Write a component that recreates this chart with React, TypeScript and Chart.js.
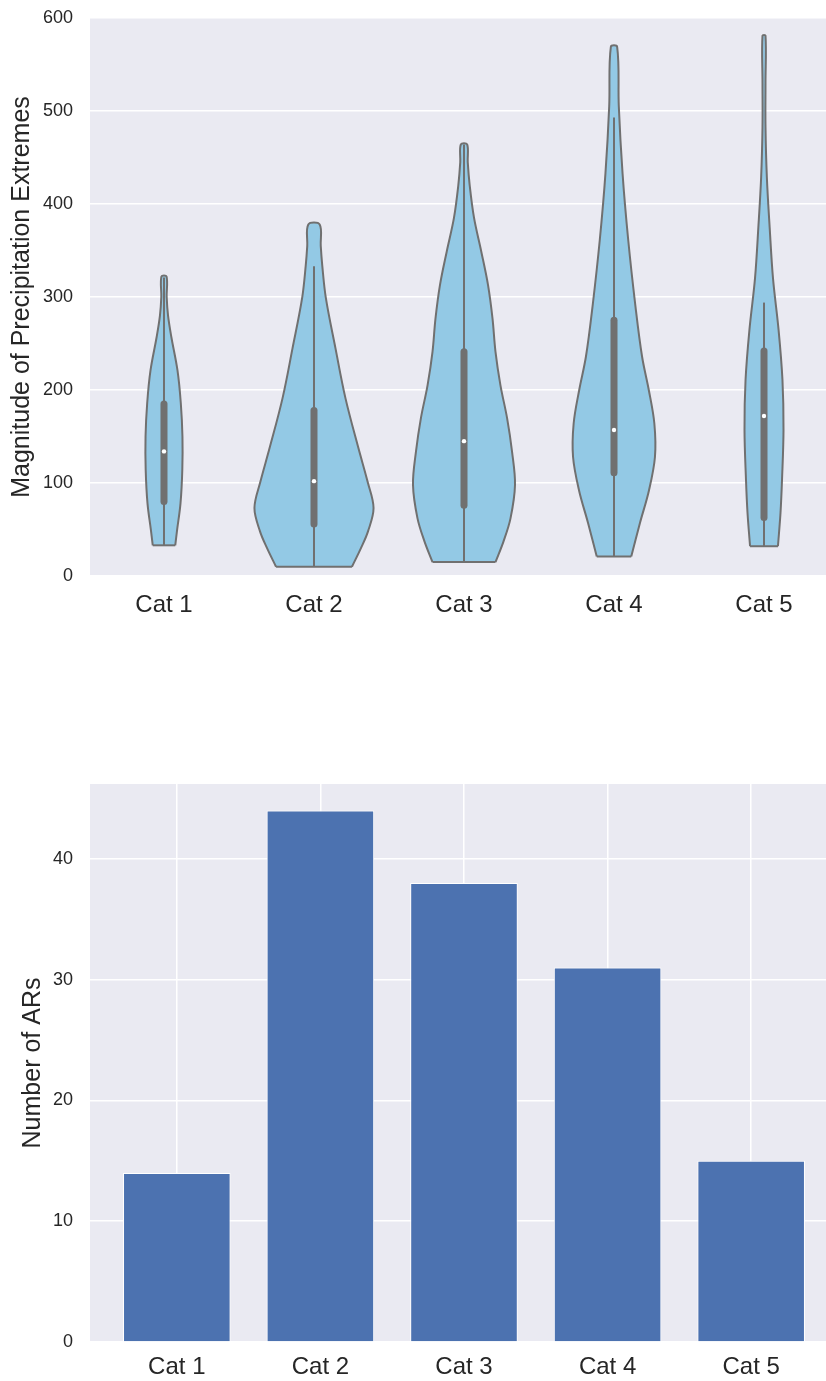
import React, { useEffect, useRef } from 'react';
import { Chart, registerables } from 'chart.js';

Chart.register(...registerables);

// ---------------- data ----------------
const categories = ['Cat 1', 'Cat 2', 'Cat 3', 'Cat 4', 'Cat 5'];

// violin density profiles: y levels and half-widths (category units)
const violinY1 = [33, 49, 78, 114, 150, 186, 221, 257, 280, 300, 322];
const violinW1 = [0.075, 0.087, 0.11, 0.122, 0.123, 0.112, 0.09, 0.049, 0.027, 0.018, 0.017];
const violinY2 = [10, 30, 48, 73, 101, 137, 191, 245, 299, 334, 355, 378];
const violinW2 = [0.253, 0.313, 0.36, 0.397, 0.358, 0.297, 0.21, 0.143, 0.079, 0.055, 0.045, 0.038];
const violinY3 = [15, 37, 62, 98, 134, 170, 205, 241, 277, 313, 349, 385, 420, 445, 464];
const violinW3 = [0.21, 0.263, 0.31, 0.34, 0.32, 0.287, 0.243, 0.21, 0.19, 0.16, 0.115, 0.067, 0.038, 0.025, 0.021];
const violinY4 = [21, 57, 92, 128, 164, 200, 236, 290, 361, 433, 505, 569];
const violinW4 = [0.115, 0.173, 0.233, 0.273, 0.269, 0.232, 0.187, 0.143, 0.095, 0.057, 0.032, 0.021];
const violinY5 = [32, 68, 103, 157, 211, 265, 320, 374, 429, 483, 530, 581];
const violinW5 = [0.093, 0.11, 0.12, 0.13, 0.123, 0.097, 0.06, 0.038, 0.019, 0.01, 0.01, 0.01];

// inner box statistics
const whiskerLow = [33, 10, 15, 21, 32];
const quartile1 = [80, 56, 76, 111, 63];
const medians = [134, 102, 145, 157, 172];
const quartile3 = [185, 178, 241, 275, 242];
const whiskerHigh = [321, 333, 464, 493, 294];

// bar chart
const arCounts = [14, 44, 38, 31, 15];

const precipTicks = [0, 100, 200, 300, 400, 500, 600];
const countTicks = [0, 10, 20, 30, 40];

// ---------------- styles ----------------
const FONT = "'Liberation Sans', Arial, Helvetica, sans-serif";
const TEXT = '#262626';
const BG = '#eaeaf2';
const VIOLIN = '#93c9e5';
const GRAY = '#707070';
const BAR = '#4c72b0';

const bgPlugin = {
  id: 'axesBg',
  beforeDraw(chart: any) {
    const { ctx, chartArea } = chart;
    if (!chartArea) return;
    ctx.save();
    ctx.fillStyle = BG;
    ctx.fillRect(chartArea.left, chartArea.top, chartArea.right - chartArea.left, chartArea.bottom - chartArea.top);
    ctx.restore();
  },
};

const fitY = (s: any) => {
  s.width = 90;
  s.paddingTop = 0;
  s.paddingBottom = 0;
};

export default function App() {
  const topRef = useRef<HTMLCanvasElement>(null);
  const botRef = useRef<HTMLCanvasElement>(null);

  useEffect(() => {
    const profiles: [number[], number[]][] = [
      [violinY1, violinW1],
      [violinY2, violinW2],
      [violinY3, violinW3],
      [violinY4, violinW4],
      [violinY5, violinW5],
    ];

    const topDatasets: any[] = [];
    profiles.forEach(([ys, ws], i) => {
      const right = ys.map((y, k) => ({ x: i + ws[k], y }));
      const left = ys.map((y, k) => ({ x: i - ws[k], y })).reverse();
      topDatasets.push({
        type: 'line',
        data: [...right, ...left],
        fill: 'shape',
        backgroundColor: VIOLIN,
        borderColor: GRAY,
        borderWidth: 2,
        borderJoinStyle: 'round',
        tension: 0.35,
        pointRadius: 0,
        order: 5,
      });
      topDatasets.push({
        type: 'line',
        data: [
          { x: i - ws[0], y: ys[0] },
          { x: i + ws[0], y: ys[0] },
        ],
        fill: false,
        borderColor: GRAY,
        borderWidth: 2,
        pointRadius: 0,
        order: 4,
      });
      topDatasets.push({
        type: 'line',
        data: [
          { x: i, y: whiskerLow[i] },
          { x: i, y: whiskerHigh[i] },
        ],
        fill: false,
        borderColor: GRAY,
        borderWidth: 2,
        pointRadius: 0,
        order: 3,
      });
      topDatasets.push({
        type: 'line',
        data: [
          { x: i, y: quartile1[i] },
          { x: i, y: quartile3[i] },
        ],
        fill: false,
        borderColor: GRAY,
        borderWidth: 7,
        borderCapStyle: 'round',
        pointRadius: 0,
        order: 2,
      });
      topDatasets.push({
        type: 'line',
        data: [{ x: i, y: medians[i] }],
        showLine: false,
        pointRadius: 2.2,
        pointBorderWidth: 0,
        pointBackgroundColor: '#ffffff',
        order: 1,
      });
    });

    const catTicks = (scale: any) => {
      scale.ticks = categories.map((_, i) => ({ value: i }));
    };

    const c1 = new Chart(topRef.current!, {
      type: 'line',
      data: { datasets: topDatasets },
      plugins: [bgPlugin],
      options: {
        animation: false,
        responsive: false,
        devicePixelRatio: 1,
        events: [],
        layout: { autoPadding: false, padding: { top: 18, left: 0, right: 0, bottom: 0 } },
        plugins: { legend: { display: false }, tooltip: { enabled: false } },
        scales: {
          x: {
            type: 'linear',
            min: -0.4933,
            max: 4.4133,
            grid: { display: false },
            border: { display: false },
            afterBuildTicks: catTicks,
            afterFit: (s: any) => {
              s.height = 74;
              s.paddingLeft = 0;
              s.paddingRight = 0;
            },
            ticks: {
              padding: 7,
              color: TEXT,
              font: { family: FONT, size: 24 },
              maxRotation: 0,
              autoSkip: false,
              callback: (v: any) => categories[Math.round(Number(v))],
            },
          },
          y: {
            type: 'linear',
            min: 0,
            max: 600,
            afterBuildTicks: (s: any) => {
              s.ticks = precipTicks.map((v) => ({ value: v }));
            },
            afterFit: fitY,
            grid: { color: '#ffffff', lineWidth: 1.5, drawTicks: false },
            border: { display: false },
            ticks: { padding: 17, color: TEXT, font: { family: FONT, size: 18 } },
            title: {
              display: true,
              text: 'Magnitude of Precipitation Extremes',
              color: TEXT,
              font: { family: FONT, size: 25 },
              padding: { top: 7, bottom: 0 },
            },
          },
        },
      } as any,
    });

    const c2 = new Chart(botRef.current!, {
      type: 'bar',
      data: {
        datasets: [
          {
            data: arCounts.map((v, i) => ({ x: i, y: v })),
            backgroundColor: BAR,
            borderColor: '#ffffff',
            borderWidth: 1,
            categoryPercentage: 1,
            barPercentage: 0.749,
          },
        ],
      },
      plugins: [bgPlugin],
      options: {
        animation: false,
        responsive: false,
        devicePixelRatio: 1,
        events: [],
        layout: { autoPadding: false, padding: { top: 84, left: 0, right: 0, bottom: 0 } },
        plugins: { legend: { display: false }, tooltip: { enabled: false } },
        scales: {
          x: {
            type: 'linear',
            min: -0.6045,
            max: 4.521,
            offset: false,
            afterBuildTicks: catTicks,
            afterFit: (s: any) => {
              s.height = 39;
              s.paddingLeft = 0;
              s.paddingRight = 0;
            },
            grid: { color: '#ffffff', lineWidth: 1.5, drawTicks: false, offset: false },
            border: { display: false },
            ticks: {
              padding: 11,
              color: TEXT,
              font: { family: FONT, size: 24 },
              maxRotation: 0,
              autoSkip: false,
              callback: (v: any) => categories[Math.round(Number(v))],
            },
          },
          y: {
            type: 'linear',
            min: 0,
            max: 46.2,
            afterBuildTicks: (s: any) => {
              s.ticks = countTicks.map((v) => ({ value: v }));
            },
            afterFit: fitY,
            grid: { color: '#ffffff', lineWidth: 1.5, drawTicks: false },
            border: { display: false },
            ticks: { padding: 17, color: TEXT, font: { family: FONT, size: 18 } },
            title: {
              display: true,
              text: 'Number of ARs',
              color: TEXT,
              font: { family: FONT, size: 25 },
              padding: { top: 18, bottom: 0 },
            },
          },
        },
      } as any,
    });

    return () => {
      c1.destroy();
      c2.destroy();
    };
  }, []);

  return (
    <div style={{ position: 'absolute', left: 0, top: 0, width: 826, height: 1381, background: '#ffffff', overflow: 'hidden' }}>
      <canvas ref={topRef} width={826} height={650} style={{ position: 'absolute', left: 0, top: 0 }} />
      <canvas ref={botRef} width={826} height={681} style={{ position: 'absolute', left: 0, top: 700 }} />
    </div>
  );
}
